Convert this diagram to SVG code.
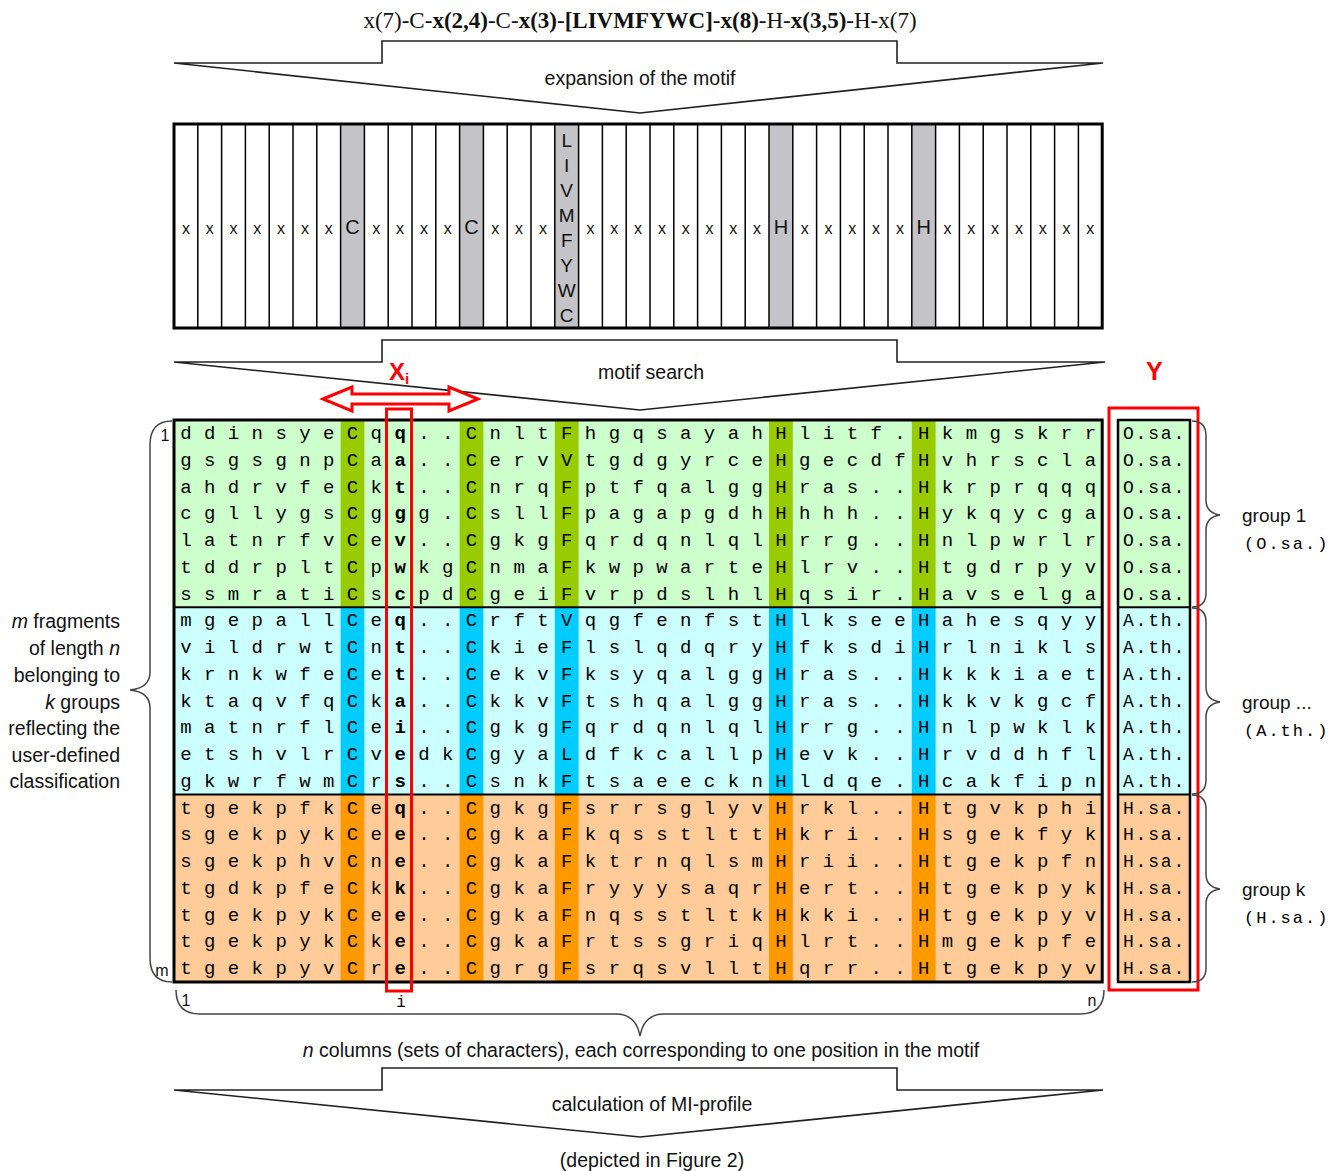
<svg xmlns="http://www.w3.org/2000/svg" width="1336" height="1171" viewBox="0 0 1336 1171">
<style>
.sans{font-family:"Liberation Sans",Arial,sans-serif;fill:#111}
.mono{font-family:"Liberation Mono","Courier New",monospace;fill:#000}
.row{font-family:"Liberation Mono","Courier New",monospace;font-size:19px;letter-spacing:12.4px;fill:#000}
.b{font-weight:bold}
.shape{fill:#fff;stroke:#222;stroke-width:1.6}
.brace{fill:none;stroke:#444;stroke-width:1.5}
.red{fill:none;stroke:#f00;stroke-width:3}
.grid{stroke:#000;stroke-width:1.5;fill:none}
.g1{fill:#ccffcc}.g1d{fill:#99cc00}
.g2{fill:#ccffff}.g2d{fill:#00ccff}
.g3{fill:#ffcc99}.g3d{fill:#ff9900}
</style>

<g id="motif-text">
<text class="sans" x="640" y="28" text-anchor="middle" style="font-family:'Liberation Serif','Times New Roman',serif;font-size:23px">x(7)-C-<tspan class="b">x(2,4)</tspan>-C-<tspan class="b">x(3)</tspan>-<tspan class="b">[LIVMFYWC]</tspan>-<tspan class="b">x(8)</tspan>-H-<tspan class="b">x(3,5)</tspan>-H-x(7)</text>
</g>

<g id="connectors">
<g id="arrow-expansion">
<polygon class="shape" points="174,63 382,63 382,41 897,41 897,63 1103,63 640,113"/>
<text class="sans" x="640" y="85" text-anchor="middle" font-size="19.5">expansion of the motif</text>
</g>
<g id="arrow-search">
<polygon class="shape" points="174,362 382,362 382,340 897,340 897,362 1105,362 640,410"/>
<text class="sans" x="651" y="379" text-anchor="middle" font-size="19.5">motif search</text>
</g>
<g id="arrow-mi">
<polygon class="shape" points="174,1090 382,1090 382,1068 897,1068 897,1090 1103,1090 640,1137"/>
<text class="sans" x="652" y="1111" text-anchor="middle" font-size="19.5">calculation of MI-profile</text>
</g>
</g>

<g id="motif-box">
<rect x="174" y="124" width="928.2" height="204" fill="#fff"/>
<g fill="#c4c4c8">
<rect x="340.6" y="124" width="23.8" height="204"/>
<rect x="459.6" y="124" width="23.8" height="204"/>
<rect x="554.8" y="124" width="23.8" height="204"/>
<rect x="769" y="124" width="23.8" height="204"/>
<rect x="911.8" y="124" width="23.8" height="204"/>
</g>
<path class="grid" d="M197.8 124V328M221.6 124V328M245.4 124V328M269.2 124V328M293 124V328M316.8 124V328M340.6 124V328M364.4 124V328M388.2 124V328M412 124V328M435.8 124V328M459.6 124V328M483.4 124V328M507.2 124V328M531 124V328M554.8 124V328M578.6 124V328M602.4 124V328M626.2 124V328M650 124V328M673.8 124V328M697.6 124V328M721.4 124V328M745.2 124V328M769 124V328M792.8 124V328M816.6 124V328M840.4 124V328M864.2 124V328M888 124V328M911.8 124V328M935.6 124V328M959.4 124V328M983.2 124V328M1007 124V328M1030.8 124V328M1054.6 124V328M1078.4 124V328"/>
<rect x="174" y="124" width="928.2" height="204" fill="none" stroke="#000" stroke-width="3"/>
<text class="sans" y="234" font-size="16" fill="#333" text-anchor="middle" x="185.9 209.7 233.5 257.3 281.1 304.9 328.7 352.5 376.3 400.1 423.9 447.7 471.5 495.3 519.1 542.9">xxxxxxx<tspan font-size="20">C</tspan>xxxx<tspan font-size="20">C</tspan>xxx</text>
<text class="sans" y="234" font-size="16" fill="#333" text-anchor="middle" x="590.5 614.3 638.1 661.9 685.7 709.5 733.3 757.1 780.9 804.7 828.5 852.3 876.1 899.9 923.7 947.5 971.3 995.1 1018.9 1042.7 1066.5 1090.3">xxxxxxxx<tspan font-size="20">H</tspan>xxxxx<tspan font-size="20">H</tspan>xxxxxxx</text>
<text class="sans" x="566.7" font-size="19" fill="#333" text-anchor="middle"><tspan x="566.7" y="147">L</tspan><tspan x="566.7" y="172">I</tspan><tspan x="566.7" y="197">V</tspan><tspan x="566.7" y="222">M</tspan><tspan x="566.7" y="247">F</tspan><tspan x="566.7" y="272">Y</tspan><tspan x="566.7" y="297">W</tspan><tspan x="566.7" y="322">C</tspan></text>
</g>

<g id="alignment">
<rect class="g1" x="174" y="420" width="928.2" height="187.3"/>
<rect class="g2" x="174" y="607.3" width="928.2" height="187.3"/>
<rect class="g3" x="174" y="794.6" width="928.2" height="187.4"/>
<g class="g1d">
<rect x="340.6" y="420" width="23.8" height="187.3"/><rect x="459.6" y="420" width="23.8" height="187.3"/><rect x="554.8" y="420" width="23.8" height="187.3"/><rect x="769" y="420" width="23.8" height="187.3"/><rect x="911.8" y="420" width="23.8" height="187.3"/>
</g>
<g class="g2d">
<rect x="340.6" y="607.3" width="23.8" height="187.3"/><rect x="459.6" y="607.3" width="23.8" height="187.3"/><rect x="554.8" y="607.3" width="23.8" height="187.3"/><rect x="769" y="607.3" width="23.8" height="187.3"/><rect x="911.8" y="607.3" width="23.8" height="187.3"/>
</g>
<g class="g3d">
<rect x="340.6" y="794.6" width="23.8" height="187.4"/><rect x="459.6" y="794.6" width="23.8" height="187.4"/><rect x="554.8" y="794.6" width="23.8" height="187.4"/><rect x="769" y="794.6" width="23.8" height="187.4"/><rect x="911.8" y="794.6" width="23.8" height="187.4"/>
</g>
<path d="M174 607.3H1102.2M174 794.6H1102.2" stroke="#000" stroke-width="2"/>
<rect x="174" y="420" width="928.2" height="562" fill="none" stroke="#000" stroke-width="3"/>
<g class="row">
<text x="180.2" y="439">ddinsyeCq<tspan class="b">q</tspan>..CnltFhgqsayahHlitf.Hkmgskrr</text>
<text x="180.2" y="465.8">gsgsgnpCa<tspan class="b">a</tspan>..CervVtgdgyrceHgecdfHvhrscla</text>
<text x="180.2" y="492.5">ahdrvfeCk<tspan class="b">t</tspan>..CnrqFptfqalggHras..Hkrprqqq</text>
<text x="180.2" y="519.3">cgllygsCg<tspan class="b">g</tspan>g.CsllFpagapgdhHhhh..Hykqycga</text>
<text x="180.2" y="546">latnrfvCe<tspan class="b">v</tspan>..CgkgFqrdqnlqlHrrg..Hnlpwrlr</text>
<text x="180.2" y="572.8">tddrpltCp<tspan class="b">w</tspan>kgCnmaFkwpwarteHlrv..Htgdrpyv</text>
<text x="180.2" y="599.6">ssmratiCs<tspan class="b">c</tspan>pdCgeiFvrpdslhlHqsir.Havselga</text>
<text x="180.2" y="626.3">mgepallCe<tspan class="b">q</tspan>..CrftVqgfenfstHlkseeHahesqyy</text>
<text x="180.2" y="653.1">vildrwtCn<tspan class="b">t</tspan>..CkieFlslqdqryHfksdiHrlnikls</text>
<text x="180.2" y="679.8">krnkwfeCe<tspan class="b">t</tspan>..CekvFksyqalggHras..Hkkkiaet</text>
<text x="180.2" y="706.6">ktaqvfqCk<tspan class="b">a</tspan>..CkkvFtshqalggHras..Hkkvkgcf</text>
<text x="180.2" y="733.4">matnrflCe<tspan class="b">i</tspan>..CgkgFqrdqnlqlHrrg..Hnlpwklk</text>
<text x="180.2" y="760.1">etshvlrCv<tspan class="b">e</tspan>dkCgyaLdfkcallpHevk..Hrvddhfl</text>
<text x="180.2" y="786.9">gkwrfwmCr<tspan class="b">s</tspan>..CsnkFtsaeecknHldqe.Hcakfipn</text>
<text x="180.2" y="813.6">tgekpfkCe<tspan class="b">q</tspan>..CgkgFsrrsglyvHrkl..Htgvkphi</text>
<text x="180.2" y="840.4">sgekpykCe<tspan class="b">e</tspan>..CgkaFkqsstlttHkri..Hsgekfyk</text>
<text x="180.2" y="867.2">sgekphvCn<tspan class="b">e</tspan>..CgkaFktrnqlsmHrii..Htgekpfn</text>
<text x="180.2" y="893.9">tgdkpfeCk<tspan class="b">k</tspan>..CgkaFryyysaqrHert..Htgekpyk</text>
<text x="180.2" y="920.7">tgekpykCe<tspan class="b">e</tspan>..CgkaFnqsstltkHkki..Htgekpyv</text>
<text x="180.2" y="947.4">tgekpykCk<tspan class="b">e</tspan>..CgkaFrtssgriqHlrt..Hmgekpfe</text>
<text x="180.2" y="974.2">tgekpyvCr<tspan class="b">e</tspan>..CgrgFsrqsvlltHqrr..Htgekpyv</text>
</g>
</g>

<g id="y-column">
<rect class="g1" x="1118" y="420" width="72" height="187.3"/>
<rect class="g2" x="1118" y="607.3" width="72" height="187.3"/>
<rect class="g3" x="1118" y="794.6" width="72" height="187.4"/>
<path d="M1118 607.3H1190M1118 794.6H1190" stroke="#000" stroke-width="2"/>
<rect x="1118" y="420" width="72" height="562" fill="none" stroke="#000" stroke-width="2.5"/>
<g class="mono" font-size="18" letter-spacing="1.8">
<text x="1123" y="439">O.sa.</text><text x="1123" y="465.8">O.sa.</text><text x="1123" y="492.5">O.sa.</text><text x="1123" y="519.3">O.sa.</text><text x="1123" y="546">O.sa.</text><text x="1123" y="572.8">O.sa.</text><text x="1123" y="599.6">O.sa.</text>
<text x="1123" y="626.3">A.th.</text><text x="1123" y="653.1">A.th.</text><text x="1123" y="679.8">A.th.</text><text x="1123" y="706.6">A.th.</text><text x="1123" y="733.4">A.th.</text><text x="1123" y="760.1">A.th.</text><text x="1123" y="786.9">A.th.</text>
<text x="1123" y="813.6">H.sa.</text><text x="1123" y="840.4">H.sa.</text><text x="1123" y="867.2">H.sa.</text><text x="1123" y="893.9">H.sa.</text><text x="1123" y="920.7">H.sa.</text><text x="1123" y="947.4">H.sa.</text><text x="1123" y="974.2">H.sa.</text>
</g>
<rect class="red" x="1109" y="408" width="89" height="582"/>
<text x="1146" y="380" font-family="Liberation Sans,Arial,sans-serif" font-size="25" font-weight="bold" fill="#f00">Y</text>
</g>

<g id="xi-marker">
<rect class="red" x="386.5" y="409" width="25" height="582"/>
<polygon points="323,399 352,387 352,394 449,394 449,387 478,399 449,411 449,404 352,404 352,411" fill="#fff" stroke="#f00" stroke-width="3" stroke-linejoin="miter"/>
<text x="389" y="380" font-family="Liberation Sans,Arial,sans-serif" font-size="24" font-weight="bold" fill="#f00">X<tspan font-size="15" dy="4">i</tspan></text>
</g>

<g id="left-brace">
<path class="brace" d="M172 421Q150 421 150 445L150 672Q150 688 130 690Q150 692 150 708L150 958Q150 982 172 982"/>
<text class="sans" x="165" y="441" text-anchor="middle" font-size="16">1</text>
<text class="sans" x="162" y="976" text-anchor="middle" font-size="16">m</text>
<g class="sans" font-size="19.5" text-anchor="end">
<text x="120" y="628"><tspan font-style="italic">m</tspan> fragments</text>
<text x="120" y="655">of length <tspan font-style="italic">n</tspan></text>
<text x="120" y="682">belonging to</text>
<text x="120" y="709"><tspan font-style="italic">k</tspan>  groups</text>
<text x="120" y="735">reflecting the</text>
<text x="120" y="762">user-defined</text>
<text x="120" y="788">classification</text>
</g>
</g>

<g id="group-braces">
<path class="brace" d="M1192 421Q1206 421 1206 436L1206 500Q1206 513 1220 515Q1206 517 1206 530L1206 593Q1206 607 1192 607"/>
<path class="brace" d="M1192 608Q1206 608 1206 622L1206 687Q1206 700 1220 702Q1206 704 1206 717L1206 780Q1206 794 1192 794"/>
<path class="brace" d="M1192 795Q1206 795 1206 809L1206 874Q1206 887 1220 889Q1206 891 1206 904L1206 968Q1206 982 1192 982"/>
<text class="sans" x="1242" y="522" font-size="19">group 1</text>
<text class="mono" x="1244" y="549" font-size="17" letter-spacing="2">(O.sa.)</text>
<text class="sans" x="1242" y="709" font-size="19">group ...</text>
<text class="mono" x="1244" y="736" font-size="17" letter-spacing="2">(A.th.)</text>
<text class="sans" x="1242" y="896" font-size="19">group k</text>
<text class="mono" x="1244" y="923" font-size="17" letter-spacing="2">(H.sa.)</text>
</g>

<g id="bottom-brace">
<path class="brace" d="M176 990Q176 1014 200 1014L616 1014Q636 1014 640 1036Q644 1014 664 1014L1080 1014Q1104 1014 1104 990"/>
<text class="sans" x="186" y="1006" text-anchor="middle" font-size="16">1</text>
<text class="mono" x="401" y="1007" text-anchor="middle" font-size="16">i</text>
<text class="sans" x="1092" y="1006" text-anchor="middle" font-size="16">n</text>
<text class="sans" x="641" y="1057" text-anchor="middle" font-size="19.5"><tspan font-style="italic">n</tspan> columns (sets of characters), each corresponding to one position in the motif</text>
<text class="sans" x="652" y="1167" text-anchor="middle" font-size="19.5">(depicted in Figure 2)</text>
</g>
</svg>
